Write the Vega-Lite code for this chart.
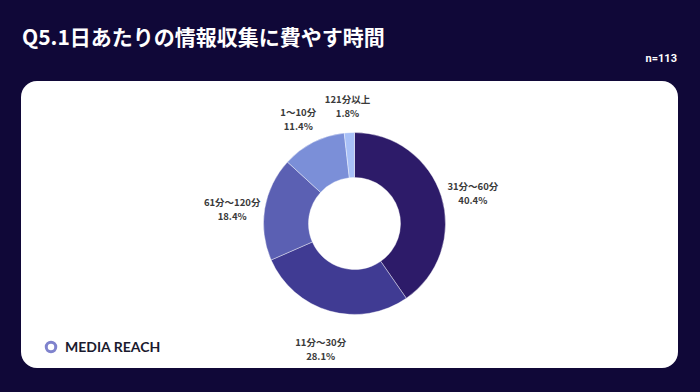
{
  "$schema": "https://vega.github.io/schema/vega-lite/v6.json",
  "width": 657,
  "height": 287,
  "autosize": {"type": "none"},
  "padding": {"left": 21, "top": 81, "right": 22, "bottom": 24},
  "background": "#100838",
  "view": {"fill": "white", "stroke": null, "cornerRadius": 16},
  "config": {
    "font": "Noto Sans CJK JP"
  },
  "title": {
    "text": "Q5.1日あたりの情報収集に費やす時間",
    "anchor": "start",
    "frame": "group",
    "offset": 32,
    "dy": 28,
    "fontSize": 21,
    "fontWeight": "bold",
    "color": "white",
    "font": "Noto Sans CJK JP",
    "dx": 1
  },
  "datasets": {
    "main": [
      {"cat": "31分〜60分", "pct": 40.4, "rank": 1},
      {"cat": "11分〜30分", "pct": 28.1, "rank": 2},
      {"cat": "61分〜120分", "pct": 18.4, "rank": 3},
      {"cat": "1〜10分", "pct": 11.4, "rank": 4},
      {"cat": "121分以上", "pct": 1.8, "rank": 5}
    ],
    "notes": [{"t": "n=113"}],
    "brand": [{"t": "MEDIA REACH"}]
  },
  "layer": [
    {
      "data": {"name": "main"},
      "mark": {"type": "arc", "outerRadius": 91, "innerRadius": 46, "x": {"expr": "width/2+5"}, "y": {"expr": "height/2-1"}, "stroke": "white", "strokeWidth": 0.4},
      "encoding": {
        "theta": {"field": "pct", "type": "quantitative", "stack": true},
        "order": {"field": "rank", "type": "quantitative"},
        "color": {
          "field": "cat",
          "type": "nominal",
          "scale": {
            "domain": ["31分〜60分", "11分〜30分", "61分〜120分", "1〜10分", "121分以上"],
            "range": ["#2d1b69", "#403b93", "#5b60b3", "#7b8fd8", "#a8c0f7"]
          },
          "legend": null
        }
      }
    },
    {
      "data": {"name": "main"},
      "transform": [
        {"calculate": "[datum.cat, format(datum.pct, '.1f') + '%']", "as": "lbl"}
      ],
      "mark": {"type": "text", "radius": 124, "x": {"expr": "width/2+5"}, "y": {"expr": "height/2-1"}, "fontSize": 9.5, "fontWeight": "bold", "color": "#3a3a3a", "lineHeight": 14, "align": "center", "baseline": "middle", "font": "Noto Sans CJK JP"},
      "encoding": {
        "theta": {"field": "pct", "type": "quantitative", "stack": true},
        "order": {"field": "rank", "type": "quantitative"},
        "text": {"field": "lbl"}
      }
    },
    {
      "data": {"name": "notes"},
      "mark": {"type": "text", "x": {"expr": "width"}, "y": -19, "dx": -1, "align": "right", "baseline": "alphabetic", "fontSize": 11, "fontWeight": "bold", "color": "white", "font": "Roboto"},
      "encoding": {"text": {"field": "t"}}
    },
    {
      "data": {"name": "brand"},
      "mark": {"type": "text", "x": 44, "y": {"expr": "height-16"}, "align": "left", "baseline": "alphabetic", "fontSize": 14, "fontWeight": "bold", "color": "#1a1a2e", "font": "Lato"},
      "encoding": {"text": {"field": "t"}}
    },
    {
      "data": {"name": "brand"},
      "mark": {"type": "point", "shape": "circle", "filled": false, "x": 30, "y": {"expr": "height-21"}, "size": 90, "strokeWidth": 3, "color": "#4a4fb8"},
      "encoding": {}
    }
  ]
}
